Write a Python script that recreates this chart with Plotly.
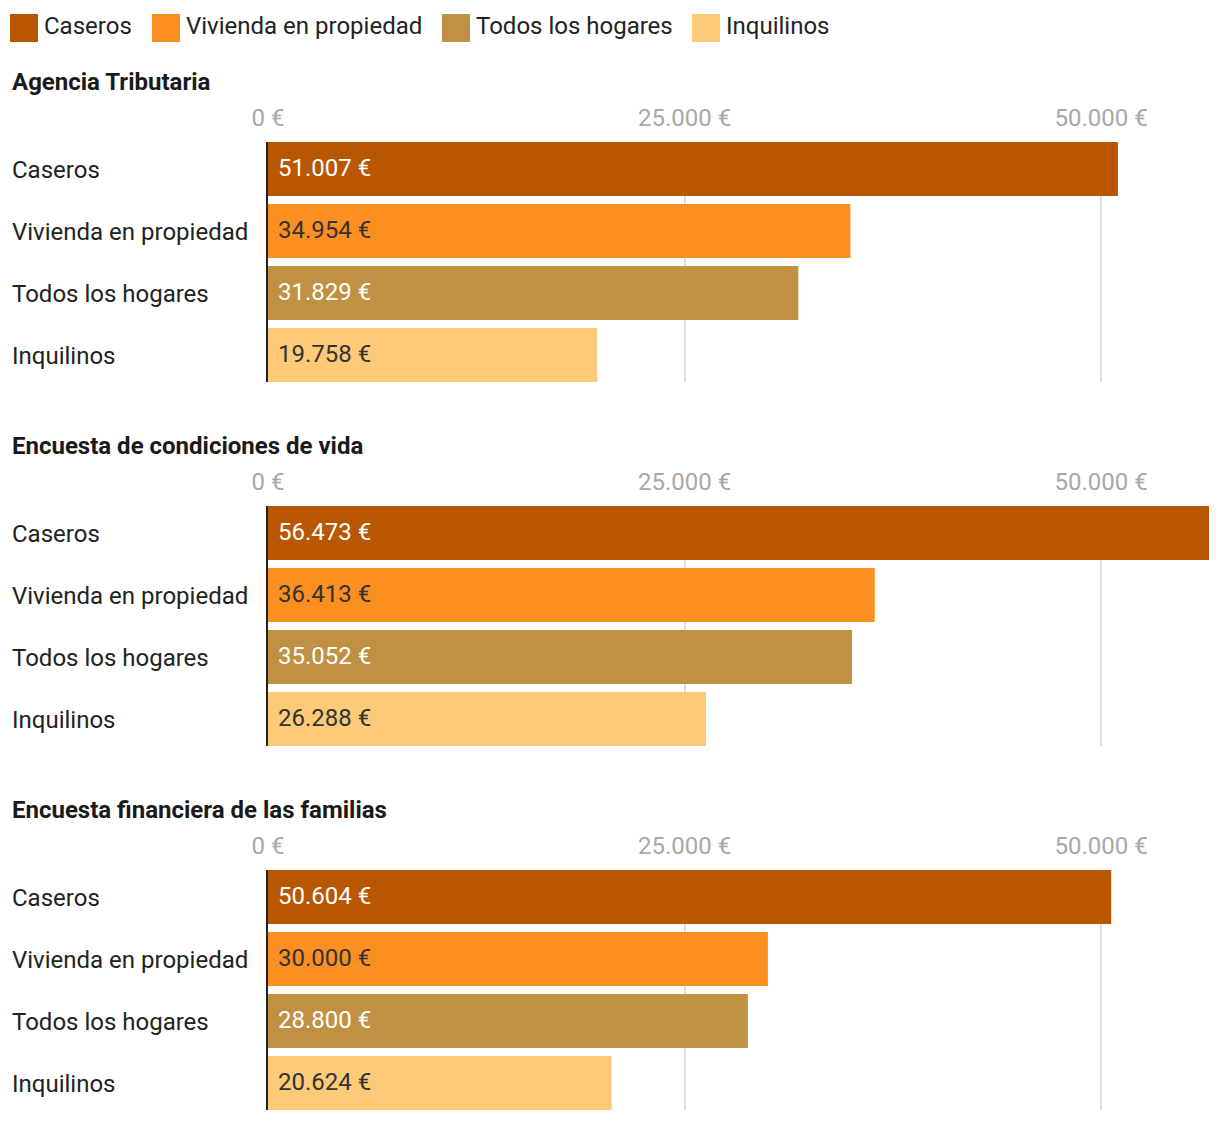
import plotly.graph_objects as go

# ---------------- data ----------------
categories = ["Caseros", "Vivienda en propiedad", "Todos los hogares", "Inquilinos"]
panel_titles = ["Agencia Tributaria", "Encuesta de condiciones de vida", "Encuesta financiera de las familias"]
agencia_tributaria = [51007, 34954, 31829, 19758]
condiciones_vida = [56473, 36413, 35052, 26288]
financiera_familias = [50604, 30000, 28800, 20624]
tick_values = [0, 25000, 50000]

panels = [agencia_tributaria, condiciones_vida, financiera_familias]

# ---------------- style ----------------
colors = ["#b95600", "#fc8f22", "#c09142", "#fdca78"]
label_colors = ["#ffffff", "#333333", "#ffffff", "#333333"]
FONT = "Roboto, Noto Sans, sans-serif"
FS = 24
W, H = 1220, 1122
L, R = 268, 11
PW = W - L - R


def fmt(v):
    return f"{v:,}".replace(",", ".") + " €"


def px(x):
    return (x - L) / PW


def py(y):
    return 1 - y / H


fig = go.Figure()
layout = dict(
    width=W, height=H,
    margin=dict(l=L, r=R, t=0, b=0),
    paper_bgcolor="white", plot_bgcolor="white",
    showlegend=False,
    font=dict(family=FONT, color="#222222", size=FS),
)
annotations = []
shapes = []

panel_offset = 364
top0 = 142
plot_h = 240
pitch = 62
bar_w = 54
span = plot_h / pitch
lo = -(bar_w / 2) / pitch
for i, vals in enumerate(panels):
    n = "" if i == 0 else str(i + 1)
    top = top0 + i * panel_offset
    bot = top + plot_h
    fig.add_trace(go.Bar(
        y=categories, x=vals, orientation="h",
        marker=dict(color=colors, line=dict(width=0)),
        width=bar_w / pitch,
        xaxis="x" + n, yaxis="y" + n,
        hoverinfo="skip",
    ))
    layout["xaxis" + n] = dict(
        domain=[0, 1], anchor="y" + n, side="top",
        range=[0, 56473],
        tickvals=tick_values, ticktext=[fmt(v) for v in tick_values],
        tickfont=dict(size=FS, color="#a8a8a8", family=FONT),
        ticklabelstandoff=10,
        showgrid=True, gridcolor="#dedede", gridwidth=1.5,
        zeroline=False, showline=False, ticks="",
        automargin=False, fixedrange=True,
    )
    layout["yaxis" + n] = dict(
        domain=[py(bot), py(top)], anchor="x" + n,
        type="category", categoryarray=categories,
        range=[lo + span, lo],
        showticklabels=False, showgrid=False, zeroline=False,
        showline=True, linecolor="#222222", linewidth=2,
        ticks="", automargin=False, fixedrange=True,
    )
    # panel title
    annotations.append(dict(
        text="<b>" + panel_titles[i] + "</b>", xref="paper", yref="paper",
        x=px(10), y=py(82 + i * panel_offset), xanchor="left", yanchor="middle",
        showarrow=False, font=dict(size=FS, color="#1a1a1a", family=FONT),
    ))
    for j, (c, v) in enumerate(zip(categories, vals)):
        # category label, left aligned
        annotations.append(dict(
            text=c, xref="paper", yref="y" + n, x=px(10), y=c,
            xanchor="left", yanchor="middle", showarrow=False, yshift=-1,
            font=dict(size=FS, color="#222222", family=FONT),
        ))
        # value label inside bar
        annotations.append(dict(
            text=fmt(v), xref="x" + n, yref="y" + n, x=0, y=c,
            xanchor="left", yanchor="middle", xshift=8, showarrow=False, yshift=1,
            font=dict(size=FS, color=label_colors[j], family=FONT),
        ))

# legend (manual)
legend_x = [10, 152, 442, 692]
for k, c in enumerate(categories):
    x0 = legend_x[k]
    shapes.append(dict(
        type="rect", xref="paper", yref="paper",
        x0=px(x0), x1=px(x0 + 28), y0=py(42), y1=py(14),
        fillcolor=colors[k], line=dict(width=0),
    ))
    annotations.append(dict(
        text=c, xref="paper", yref="paper", x=px(x0 + 32), y=py(26),
        xanchor="left", yanchor="middle", showarrow=False,
        font=dict(size=FS, color="#222222", family=FONT),
    ))

layout["annotations"] = annotations
layout["shapes"] = shapes
fig.update_layout(**layout)
fig.write_html("out.html")
